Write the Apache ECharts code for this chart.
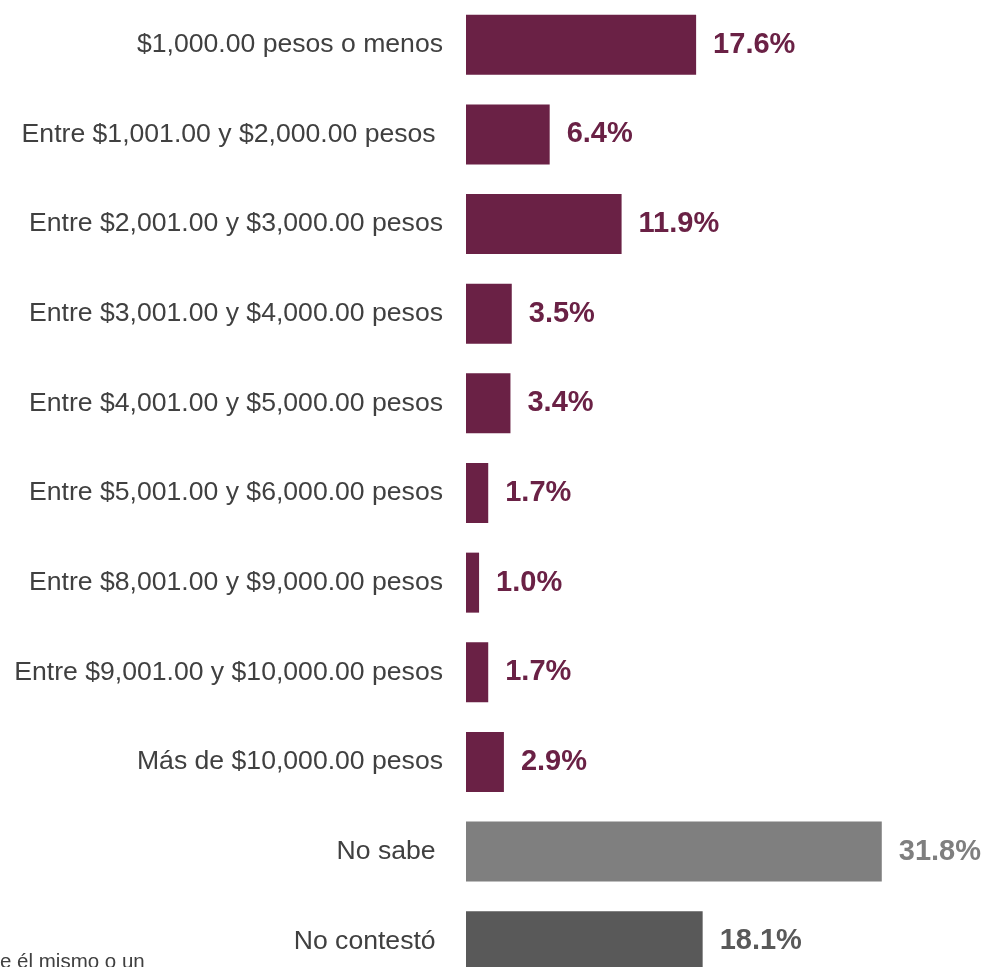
<!DOCTYPE html>
<html><head><meta charset="utf-8">
<script src="https://cdn.jsdelivr.net/npm/echarts@6/dist/echarts.min.js"></script>
<style>html,body{margin:0;padding:0;background:#fff;overflow:hidden;width:984px;height:967px}#c{width:1000px;height:1000px}</style>
</head><body><div id="c"></div>
<script>
const categories = [
  "$1,000.00 pesos o menos",
  "Entre $1,001.00 y $2,000.00 pesos ",
  "Entre $2,001.00 y $3,000.00 pesos",
  "Entre $3,001.00 y $4,000.00 pesos",
  "Entre $4,001.00 y $5,000.00 pesos",
  "Entre $5,001.00 y $6,000.00 pesos",
  "Entre $8,001.00 y $9,000.00 pesos",
  "Entre $9,001.00 y $10,000.00 pesos",
  "Más de $10,000.00 pesos",
  "No sabe ",
  "No contestó "
];
const values = [17.6, 6.4, 11.9, 3.5, 3.4, 1.7, 1.0, 1.7, 2.9, 31.8, 18.1];
const barColors = ["#6a2145","#6a2145","#6a2145","#6a2145","#6a2145","#6a2145","#6a2145","#6a2145","#6a2145","#7f7f7f","#595959"];
const footnote = "e él mismo o un";

const chart = echarts.init(document.getElementById('c'));
chart.setOption({
  animation: false,
  backgroundColor: '#ffffff',
  grid: {left: 466, top: -4, width: 523, height: 990, containLabel: false},
  xAxis: {type: 'value', min: 0, max: 40, show: false},
  yAxis: {
    type: 'category', data: categories, inverse: true,
    axisLine: {show: false}, axisTick: {show: false},
    axisLabel: {margin: 23, fontSize: 26.6, color: '#404040', fontFamily: 'Liberation Sans, Arial, sans-serif'}
  },
  series: [{
    type: 'bar', barWidth: 60,
    data: values.map((v, i) => ({value: v, itemStyle: {color: barColors[i]}, label: {color: barColors[i]}})),
    label: {
      show: true, position: 'right', distance: 17,
      formatter: p => p.value.toFixed(1) + '%',
      fontSize: 29, fontWeight: 'bold', fontFamily: 'Liberation Sans, Arial, sans-serif'
    }
  }],
  graphic: [{
    type: 'text', left: 0, top: 952,
    style: {text: footnote, fontSize: 20.5, fill: '#404040', fontFamily: 'Liberation Sans, Arial, sans-serif'}
  }]
});
</script></body></html>
